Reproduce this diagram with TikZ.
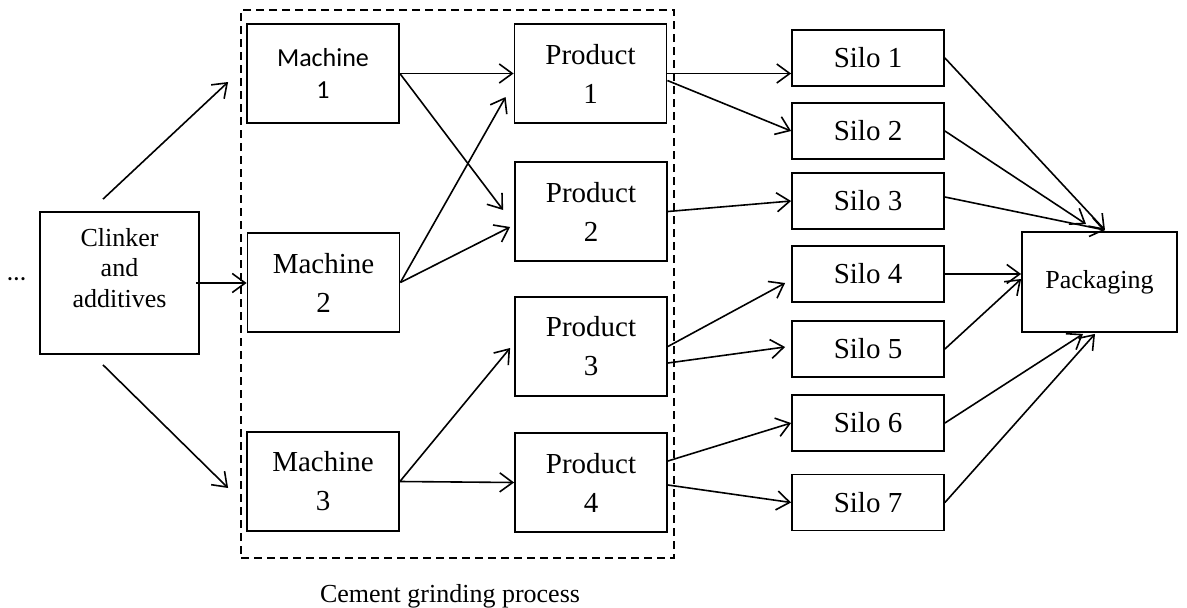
\documentclass[tikz,border=0pt]{standalone}
\usepackage{fontspec}
\setmainfont{Liberation Serif}
\newfontfamily\calibri{Carlito}
\usetikzlibrary{arrows.meta,calc}
\begin{document}
\begin{tikzpicture}[x=1pt,y=-1pt,
  box/.style={draw,line width=1.8pt,inner sep=0pt,align=center},
  mp/.style={box,minimum width=152pt,minimum height=99pt,font=\fontsize{29}{39}\selectfont},
  silo/.style={box,minimum width=152pt,minimum height=56pt,font=\fontsize{29}{35}\selectfont},
  arr/.style={line width=1.6pt,-{Straight Barb[length=13pt,width=19pt]}},
  group/.style={draw,line width=1.6pt,dash pattern=on 8pt off 5pt,inner sep=0pt,minimum width=433pt,minimum height=548pt},
]
\useasboundingbox (0,0) rectangle (1187,608);

% group frame and its caption
\node[group] (grind) at (457.5,284) {};
\node[anchor=base,inner sep=0pt,font=\fontsize{26}{30}\selectfont] (cap) at (450,602) {Cement grinding process};

% input
\node[anchor=base,inner sep=0pt,font=\calibri\fontsize{26}{30}\selectfont] (dots) at (16.5,280) {…};
\node[box,minimum width=159pt,minimum height=142pt,font=\fontsize{26}{30.5}\selectfont] (clk) at (119.5,283) {Clinker\\and\\additives\\\mbox{}};

% machines
\node[mp,font=\calibri\fontsize{26}{32}\selectfont] (m1) at (323,73.5) {Machine\\1};
\node[mp] (m2) at (323.5,282.5) {Machine\\2};
\node[mp] (m3) at (323,481.5) {Machine\\3};

% products
\node[mp] (p1) at (590.5,73.5) {Product\\1};
\node[mp] (p2) at (591,211.5) {Product\\2};
\node[mp] (p3) at (591,346.5) {Product\\3};
\node[mp] (p4) at (591,482.5) {Product\\4};

% silos
\node[silo] (s1) at (868,58) {Silo 1};
\node[silo] (s2) at (868,131) {Silo 2};
\node[silo] (s3) at (868,201) {Silo 3};
\node[silo] (s4) at (868,274) {Silo 4};
\node[silo] (s5) at (868,349) {Silo 5};
\node[silo] (s6) at (868,423) {Silo 6};
\node[silo] (s7) at (868,502.5) {Silo 7};

% packaging
\node[box,minimum width=155pt,minimum height=100pt,font=\fontsize{26}{30}\selectfont] (pk) at (1099.5,282) {Packaging};

% clinker to machines
\draw[arr] ($(clk.north)+(-16.5,-12)$) -- ($(m1.west)+(-18,8.5)$);
\draw[arr] ($(clk.east)+(-4,0)$) -- (clk.east -| m2.west);
\draw[arr] ($(clk.south)+(-16.5,10)$) -- ($(m3.west)+(-18,6.5)$);

% machines to products
\draw[arr] (m1.east) -- (p1.west);
\draw[arr] (m1.east) -- ($(p2.west)+(-11,-1.5)$);
\draw[arr] (m2.east) -- ($(p1.west)+(-8,23.5)$);
\draw[arr] (m2.east) -- ($(p2.west)+(-4,15.5)$);
\draw[arr] (m3.east) -- ($(p3.west)+(-4,1.5)$);
\draw[arr] (m3.east) -- (p4.west);

% products to silos
\draw[arr] (p1.east) -- (p1.east -| s1.west);
\draw[arr] ($(p1.east)+(0,7)$) -- (s2.west);
\draw[arr] (p2.east) -- (s3.west);
\draw[arr] (p3.east) -- ($(s4.west)+(-6,9)$);
\draw[arr] ($(p3.east)+(0,16.5)$) -- ($(s5.west)+(-6,-2)$);
\draw[arr] ($(p4.east)+(0,-21.5)$) -- (s6.west);
\draw[arr] ($(p4.east)+(0,2.5)$) -- (s7.west);

% silos to packaging
\draw[arr] (s1.east) -- ($(pk.north)+(5.5,-1)$);
\draw[arr] (s2.east) -- ($(pk.north)+(-13.5,-7)$);
\draw[arr] ($(s3.east)+(0,-4)$) -- ($(pk.north)+(5.5,-1)$);
\draw[arr] (s4.east) -- (s4.east -| pk.west);
\draw[arr] (s5.east) -- ($(pk.west)+(0,-3)$);
\draw[arr] (s6.east) -- ($(pk.south)+(-16.5,1)$);
\draw[arr] (s7.east) -- ($(pk.south)+(-4.5,1)$);
\end{tikzpicture}
\end{document}
